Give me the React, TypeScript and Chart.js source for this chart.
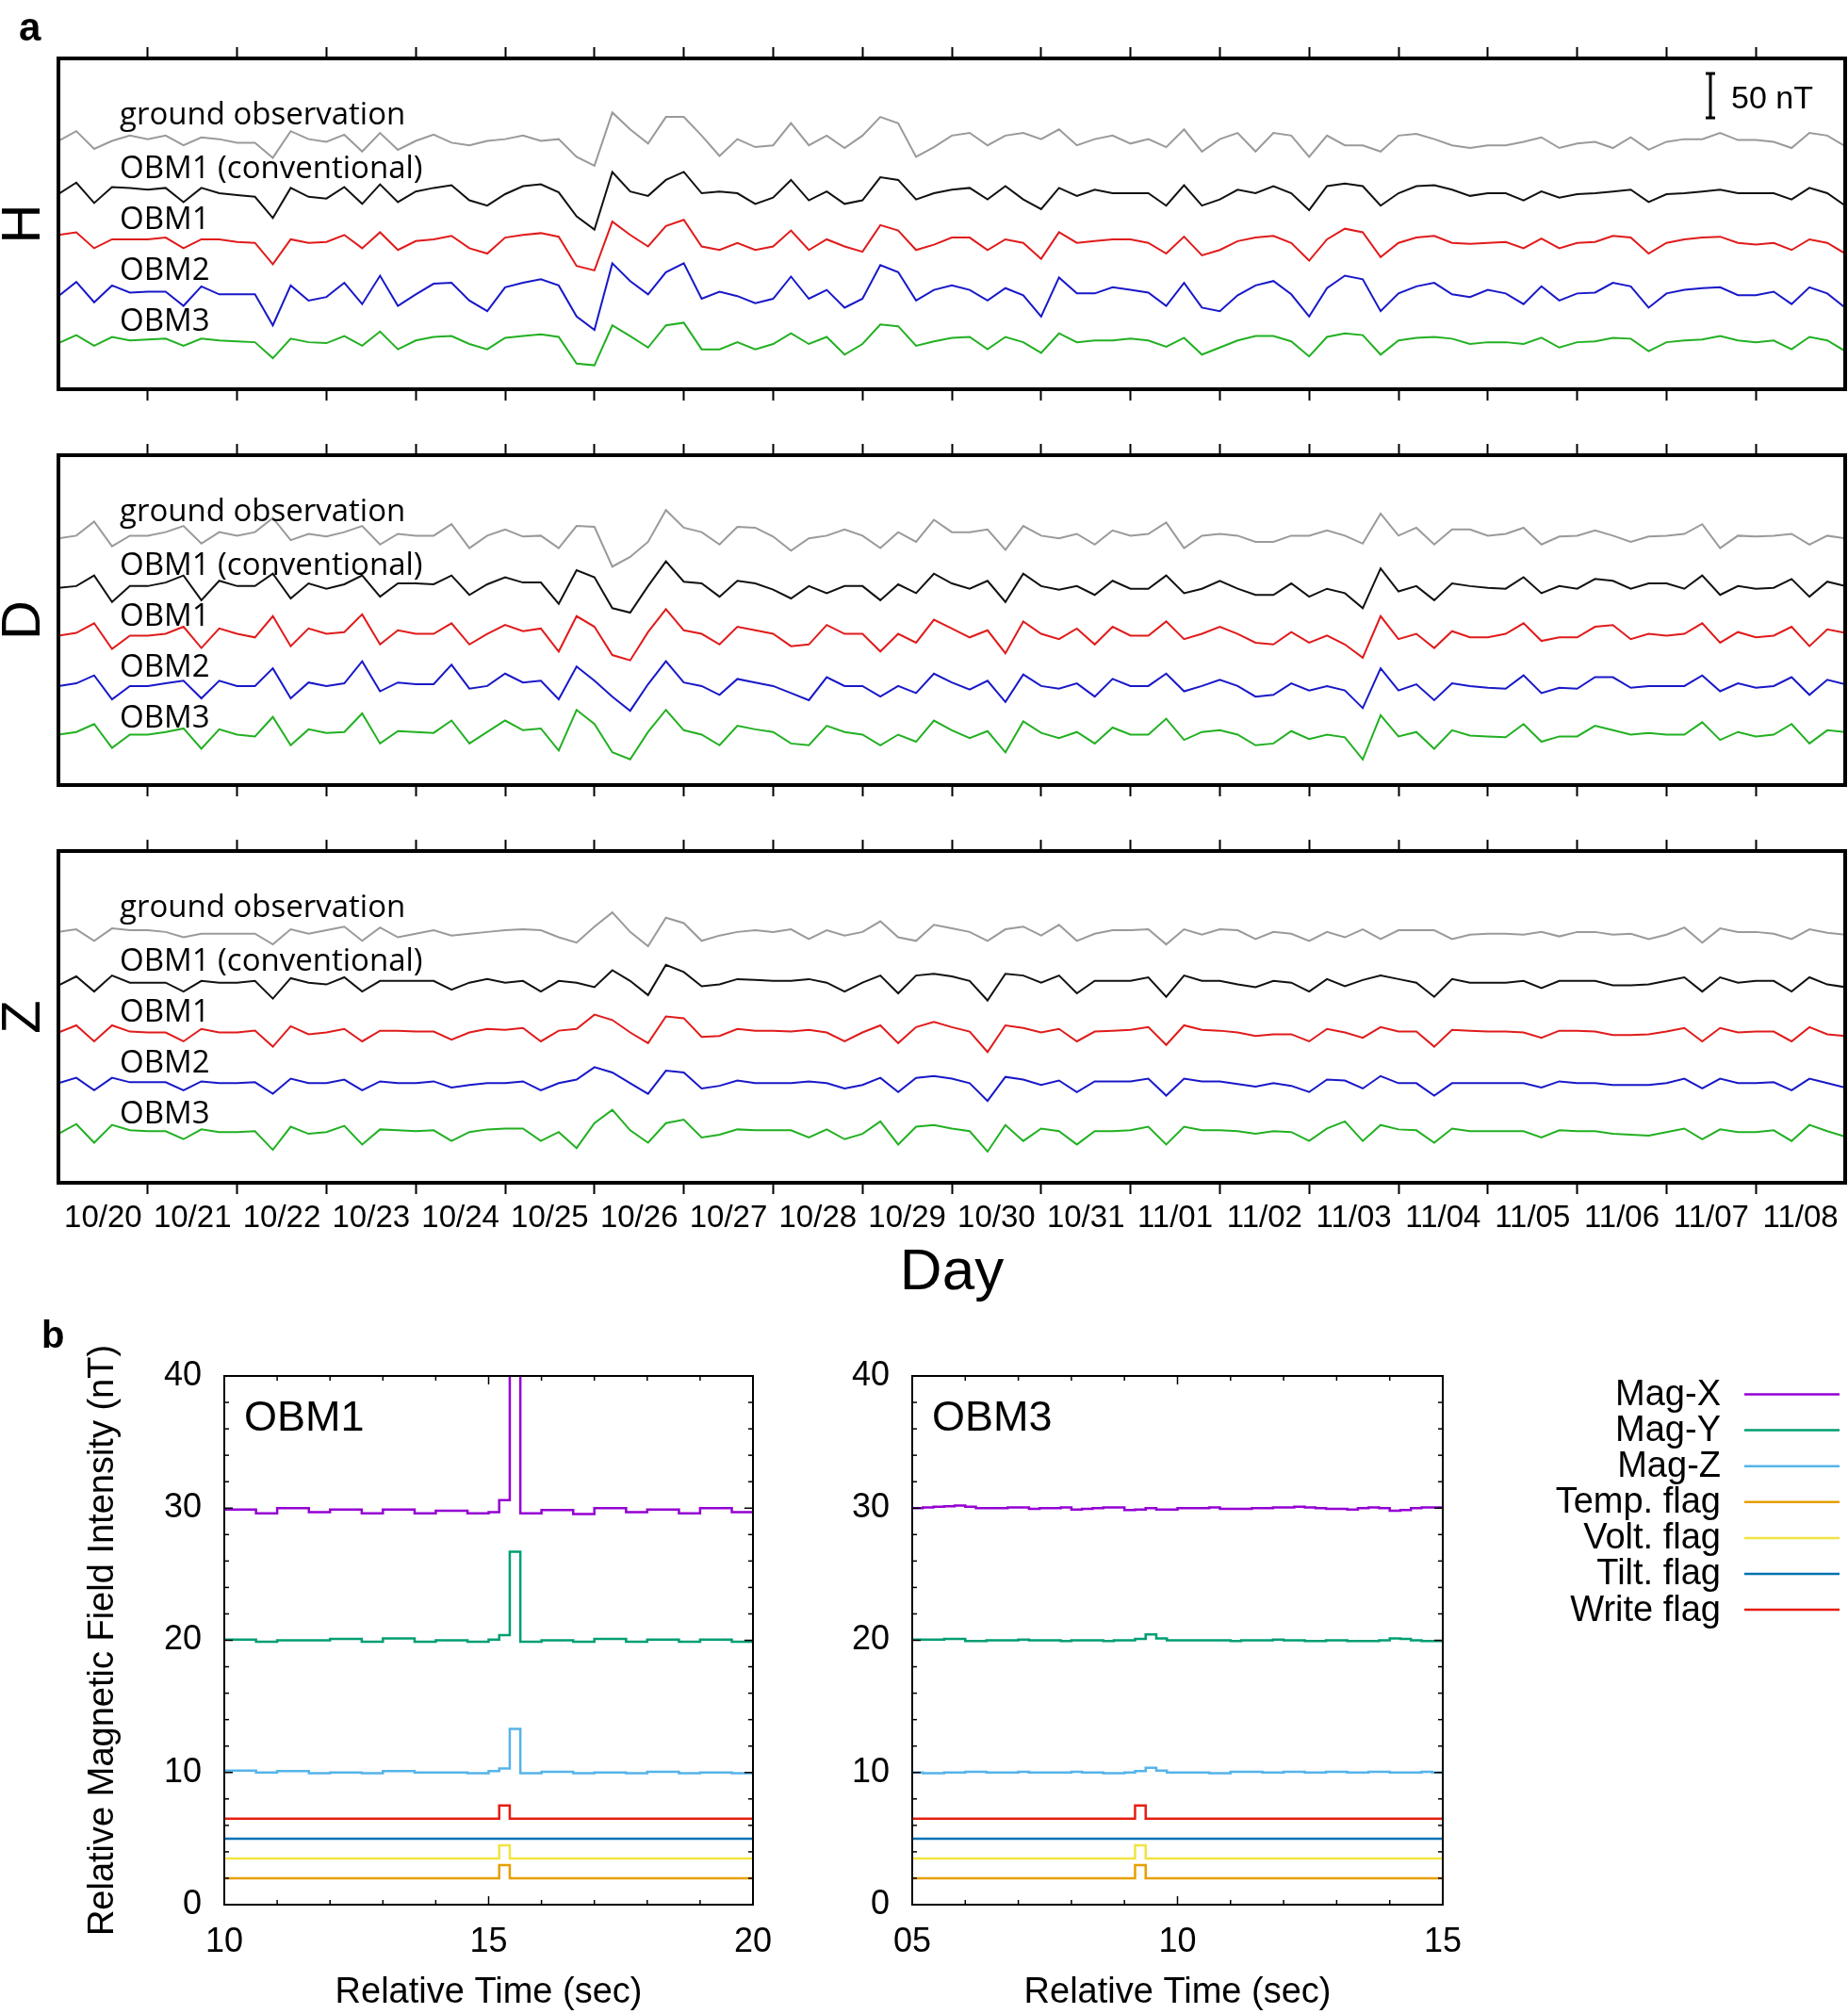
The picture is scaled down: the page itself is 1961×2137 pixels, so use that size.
import React, { useEffect, useRef } from "react";
import { Chart, registerables } from "chart.js";

Chart.register(...registerables);
Chart.defaults.font.family = "'Liberation Sans', Arial, Helvetica, sans-serif";
Chart.defaults.color = "#000";

// ---------------- Panel a : daily geomagnetic records ----------------
const DAY_LABELS = ["10/20", "10/21", "10/22", "10/23", "10/24", "10/25", "10/26", "10/27", "10/28", "10/29",
  "10/30", "10/31", "11/01", "11/02", "11/03", "11/04", "11/05", "11/06", "11/07", "11/08"];
const SAMPLE_STEP_DAYS = 0.2;
const SAMPLE_DAYS = Array.from({ length: 101 }, (_, i) => +(i * SAMPLE_STEP_DAYS).toFixed(1));
const SERIES_NAMES = ["ground observation", "OBM1 (conventional)", "OBM1", "OBM2", "OBM3"];
const SERIES_COLORS = ["#9a9a9a", "#111111", "#e01b1b", "#1818c8", "#22b022"];
const STACK_OFFSETS_NT = [282, 225, 169, 112, 57];
const SCALE_BAR_NT = 50;
const SCALE_BAR_LABEL = "50 nT";

// deviations in nT, one value every 0.2 day (10/20 00:00 -> 11/09 00:00)
const H_GROUND = [
  -2, 9, -11, -2, 4, 0, 4, -7, 2, 0,
  -4, -4, -21, 9, 0, -3, 5, -14, 7, -12,
  -2, 5, -4, -7, -2, 0, 4, -2, 0, -20,
  -30, 30, 11, -5, 25, 25, 4, -19, 0, -9,
  -7, 18, -7, 4, -10, 4, 25, 18, -20, -9,
  4, 7, -7, 4, 7, 0, 11, -7, 0, 4,
  -5, 0, -9, 11, -14, 0, 7, -14, 7, 4,
  -20, 4, -7, -7, -14, 4, 6, 0, -7, -10,
  -7, -7, -3, 2, -10, -5, -3, -10, 2, -12,
  -3, 0, 0, 7, -1, -1, -3, -10, 7, 4, -8];
const H_CONV = [
  -5, 8, -15, 3, 2, 0, 2, -14, 2, -4,
  -6, -8, -32, 2, -8, -10, 3, -16, 6, -14,
  -2, 2, 5, -12, -18, -5, 4, 6, -3, -30,
  -45, 20, -2, -7, 11, 20, -4, -2, -4, -16,
  -9, 11, -12, -2, -16, -12, 14, 11, -11, -4,
  0, 2, -11, 4, -11, -22, 2, -7, 0, -4,
  -4, -4, -18, 5, -18, -11, 0, -4, 4, -4,
  -23, 4, 7, 4, -18, -4, 4, 5, 0, -7,
  -4, -4, -12, -2, -9, -5, -4, -2, 0, -14,
  -5, -4, -2, 0, -4, -4, -4, -11, 2, -4, -18];
const H_OBM1 = [
  5, 8, -10, 0, 0, 0, 2, -10, 0, 0,
  -3, -4, -28, 0, -4, -3, 5, -10, 8, -12,
  -2, 0, 4, -10, -16, 2, 5, 7, 3, -30,
  -35, 20, 5, -8, 15, 22, -8, -12, -4, -12,
  -8, 10, -12, 0, -8, -14, 16, 10, -12, -6,
  2, 2, -12, 0, -4, -22, 8, -4, -2, 0,
  0, -4, -16, 3, -18, -12, -2, 2, 4, -4,
  -24, 0, 12, 8, -20, -4, 2, 4, -4, -5,
  -4, -3, -10, 1, -10, -4, -3, 4, 2, -16,
  -4, 0, 2, 3, -4, -6, -4, -12, 0, -4, -16];
const H_OBM2 = [
  -7, 9, -14, 5, -3, -2, -2, -18, 4, -5,
  -5, -5, -40, 5, -12, -8, 8, -16, 16, -18,
  -5, 7, 8, -12, -24, 3, 8, 12, 5, -30,
  -45, 30, 10, -5, 20, 30, -10, -2, -7, -15,
  -10, 15, -10, 0, -20, -10, 28, 20, -12, 0,
  5, 0, -12, 2, -6, -30, 14, -4, -4, 3,
  0, -3, -18, 8, -20, -24, -6, 5, 10, -5,
  -30, 2, 16, 12, -24, -4, 4, 8, -5, -8,
  0, -4, -16, 4, -12, -4, -3, 8, 4, -20,
  -4, 0, 2, 3, -6, -6, -2, -16, 3, -4, -20];
const H_OBM3 = [
  -5, 4, -8, 2, -2, -1, 0, -8, 0, -2,
  -3, -4, -22, 0, -4, -5, 3, -8, 8, -12,
  -2, 2, 3, -6, -12, 1, 3, 5, 2, -28,
  -30, 15, 3, -10, 15, 18, -12, -12, -4, -12,
  -6, 6, -6, 2, -18, -6, 16, 14, -8, -3,
  1, 2, -12, 2, -4, -16, 6, -4, -2, -2,
  0, -2, -9, 1, -18, -10, -2, 3, 3, -3,
  -20, 2, 6, 4, -18, -2, 1, 2, 0, -6,
  -4, -4, -6, 1, -10, -4, -3, 1, 0, -14,
  -4, -2, -1, 3, -2, -4, -2, -12, 2, -2, -14];

const D_GROUND = [
  -3, 0, 16, -12, 0, 0, 4, 11, -9, 4,
  0, 4, 20, -5, 2, -1, 4, 11, -10, 2,
  0, 0, 13, -14, 0, 7, -1, 0, -14, 11,
  10, -35, -24, -7, 29, 9, 4, -10, 10, 9,
  -1, -17, -3, 0, 7, 0, -14, 4, -7, 18,
  4, 4, 7, -16, 11, 0, -3, 2, -10, 6,
  0, 2, 15, -14, 0, 2, 0, -7, -7, 0,
  0, 6, 0, -9, 25, 0, 9, -10, 7, 7,
  0, 2, 9, -10, -1, 0, 6, 0, -7, -1,
  0, 2, 13, -14, 0, -1, 0, 2, -10, 0, -3];
const D_CONV = [
  -2, 0, 12, -18, 0, 0, 4, 12, -16, 6,
  0, 0, 14, -14, 3, -3, 2, 12, -12, 3,
  3, 2, 12, -10, 2, 10, 4, 4, -20, 18,
  10, -25, -30, 0, 28, 5, 3, -12, 6, 3,
  -4, -14, 0, -8, 0, 0, -16, 2, -8, 14,
  3, -3, 6, -18, 14, 0, -4, 0, -10, 6,
  -3, -3, 12, -8, -3, 6, -3, -10, -10, 3,
  -12, -3, -8, -25, 20, -6, 0, -16, 3, 0,
  -2, -3, 10, -8, 0, -3, 8, 6, -3, 3,
  3, -3, 12, -10, 0, -3, -2, 8, -12, 5, 0];
const D_OBM1 = [
  0, 3, 14, -15, 0, 0, 2, 10, -14, 8,
  2, -2, 22, -12, 8, 2, 4, 24, -10, 6,
  2, 2, 14, -10, 2, 12, 5, 8, -18, 22,
  10, -22, -28, 4, 30, 6, 2, -10, 10, 6,
  2, -12, -10, 12, 2, 2, -18, 2, -8, 18,
  8, -2, 6, -20, 16, 2, -4, 8, -10, 10,
  0, 0, 16, -4, 2, 10, 2, -8, -10, 4,
  -8, 0, -10, -25, 22, -4, 2, -14, 5, -2,
  -2, 2, 14, -6, -2, -2, 10, 12, -4, 2,
  0, 2, 14, -8, 4, -2, 0, 10, -12, 7, 3];
const D_OBM2 = [
  0, 3, 12, -15, 0, 0, 3, 6, -14, 6,
  0, 0, 20, -14, 4, 0, 3, 28, -6, 4,
  2, 2, 24, -3, 0, 14, 4, 6, -15, 22,
  6, -12, -28, 2, 28, 4, 0, -10, 8, 4,
  0, -8, -16, 10, 0, 0, -12, 0, -8, 14,
  4, -4, 6, -18, 13, 0, -3, 3, -12, 8,
  0, 0, 14, -6, 0, 7, 0, -12, -10, 3,
  -5, 0, -5, -25, 20, -5, 2, -16, 3, 0,
  -2, -3, 12, -8, -2, -3, 10, 10, -2, 0,
  0, 0, 12, -6, 3, -2, 0, 10, -10, 7, 2];
const D_OBM3 = [
  0, 3, 12, -15, 0, 0, 3, 7, -16, 6,
  0, -2, 20, -12, 6, 2, 3, 24, -10, 4,
  3, 2, 16, -10, 3, 16, 5, 7, -18, 28,
  12, -20, -28, 3, 28, 5, 0, -12, 10, 6,
  3, -10, -12, 10, 3, 0, -12, 0, -8, 16,
  5, -4, 4, -20, 15, 2, -4, 3, -10, 8,
  0, 0, 18, -6, 3, 5, 0, -12, -10, 4,
  -5, 0, -3, -28, 22, -2, 3, -16, 5, -1,
  -2, -3, 12, -8, -2, -2, 10, 5, 0, 2,
  0, 0, 14, -6, 3, -2, 0, 12, -10, 5, 3];

const Z_GROUND = [
  0, 3, -10, 4, 2, 2, 0, -6, -2, -2,
  -2, -2, -14, 3, -2, 2, 6, -10, 5, -6,
  -2, 2, -4, -2, 0, 2, 3, 2, -6, -12,
  6, 22, 0, -16, 16, 10, -10, -4, 0, 2,
  0, 3, -8, 2, -4, 0, 12, -6, -10, 8,
  4, 0, -10, 3, 6, -4, 8, -10, -2, 2,
  2, 3, -14, 3, -3, 3, 2, -8, 0, -2,
  -10, 0, -6, 3, -8, 2, 2, 2, -8, -3,
  -2, -2, -3, 0, -5, 0, 0, -3, -2, -8,
  -3, 5, -12, 4, 0, 0, -2, -8, 3, -1, -3];
const Z_CONV = [
  -3, 7, -10, 8, 0, 0, 0, -10, 2, 0,
  0, 2, -18, 5, 0, -2, 6, -10, 2, 2,
  2, 2, -8, 0, 4, 0, 2, -10, 2, 0,
  -5, 14, 2, -14, 20, 12, -4, -2, 4, 3,
  2, 2, 4, 0, -10, 0, 8, -12, 8, 10,
  7, 2, -20, 10, 8, 0, 8, -12, 2, 2,
  2, 6, -16, 8, 2, 2, -2, -5, 2, 0,
  -10, 4, -4, 3, 8, 4, 0, -16, 4, 0,
  0, 0, 2, -6, 2, 2, 2, -3, -3, -2,
  2, 6, -10, 6, 0, 2, 2, -10, 6, -2, -5];
const Z_OBM1 = [
  0, 8, -10, 8, 1, 0, 0, -10, 4, 0,
  0, 2, -16, 7, -2, 0, 4, -10, 2, 2,
  1, 1, -8, 0, 4, 3, 5, -10, 2, 4,
  20, 14, 0, -12, 18, 16, -5, -4, 4, 2,
  2, 1, 3, 0, -10, 0, 8, -12, 6, 12,
  6, 1, -22, 8, 5, 0, 4, -10, 1, 2,
  3, 6, -14, 8, 3, 2, 0, -4, -2, -2,
  -10, 4, 0, -6, 6, 1, 1, -16, 3, 2,
  1, 1, 0, -6, 2, 2, 1, -3, -3, -2,
  1, 5, -10, 5, 0, 1, 1, -10, 6, -2, -4];
const Z_OBM2 = [
  0, 6, -8, 6, 1, 1, 1, -8, 2, 0,
  0, 1, -12, 5, 0, 0, 4, -8, 2, 0,
  0, 2, -5, -2, 0, 0, 2, -8, 0, 4,
  18, 12, 0, -12, 14, 12, -6, -3, 3, 0,
  0, 0, 2, 0, -6, -2, 6, -10, 6, 8,
  5, 0, -20, 7, 4, -2, 3, -10, 2, 2,
  2, 5, -14, 5, 2, 2, -1, -4, 0, -3,
  -10, 4, 3, -6, 8, 0, 0, -14, 0, 0,
  0, 0, 0, -5, 2, 0, 0, -2, -2, -2,
  0, 5, -6, 5, 0, 0, 1, -8, 5, 0, -5];
const Z_OBM3 = [
  -2, 9, -12, 8, 2, 1, 1, -8, 3, 0,
  0, 1, -20, 6, -2, 0, 7, -14, 3, 2,
  1, 2, -10, 0, 3, 4, 4, -10, 0, -18,
  10, 25, 2, -12, 10, 14, -6, -3, 3, 2,
  2, 2, -6, 3, -8, -2, 12, -14, 6, 8,
  4, 1, -22, 8, -10, 4, 1, -14, 1, 1,
  2, 6, -14, 6, 2, 2, 1, -2, 1, 0,
  -10, 4, 12, -10, 8, 3, 2, -12, 4, 1,
  1, 1, 1, -6, 2, 1, 1, -2, -3, -4,
  0, 4, -8, 3, 0, 0, 2, -10, 8, 1, -5];

// ---------------- Panel b : 0.2 s records around a write event ----------------
const FLAG_SERIES_NAMES = ["Mag-X", "Mag-Y", "Mag-Z", "Temp. flag", "Volt. flag", "Tilt. flag", "Write flag"];
const FLAG_SERIES_COLORS = ["#9400d3", "#009e73", "#56b4e9", "#e69f00", "#f0e442", "#0072b2", "#e51e10"];
const FLAG_STEP_SEC = 0.2;
const OBM1_TIMES = Array.from({ length: 51 }, (_, i) => +(10 + i * FLAG_STEP_SEC).toFixed(1));
const OBM3_TIMES = Array.from({ length: 51 }, (_, i) => +(5 + i * FLAG_STEP_SEC).toFixed(1));

const OBM1_MAG_X = [29.9, 29.9, 29.9, 29.6, 29.6, 30.0, 30.0, 30.0, 29.7, 29.7,
  29.9, 29.9, 29.9, 29.6, 29.6, 29.9, 29.9, 29.9, 29.6, 29.6,
  29.8, 29.8, 29.8, 29.6, 29.6, 29.7, 30.6, 46, 29.6, 29.6,
  29.85, 29.85, 29.85, 29.55, 29.55, 30.0, 30.0, 30.0, 29.7, 29.7,
  29.9, 29.9, 29.9, 29.6, 29.6, 30.0, 30.0, 30.0, 29.7, 29.7, 29.7];
const OBM1_MAG_Y = [20.05, 20.05, 20.05, 19.9, 19.9, 20.0, 20.0, 20.0, 20.0, 20.0,
  20.1, 20.1, 20.1, 19.9, 19.9, 20.15, 20.15, 20.15, 19.9, 19.9,
  20.0, 20.0, 20.0, 19.9, 19.9, 20.05, 20.4, 26.7, 19.9, 19.9,
  20.0, 20.0, 20.0, 19.9, 19.9, 20.1, 20.1, 20.1, 19.9, 19.9,
  20.05, 20.05, 20.05, 19.9, 19.9, 20.05, 20.05, 20.05, 19.9, 19.9, 19.9];
const OBM1_MAG_Z = [10.15, 10.15, 10.15, 10.0, 10.0, 10.1, 10.1, 10.1, 9.95, 9.95,
  10.0, 10.0, 10.0, 9.95, 9.95, 10.1, 10.1, 10.1, 10.0, 10.0,
  10.0, 10.0, 10.0, 9.95, 9.95, 10.1, 10.3, 13.3, 9.95, 9.95,
  10.05, 10.05, 10.05, 9.95, 9.95, 10.0, 10.0, 10.0, 9.95, 9.95,
  10.05, 10.05, 10.05, 9.95, 9.95, 10.0, 10.0, 10.0, 9.95, 9.95, 9.95];
const OBM1_TEMP = [2, 2, 2, 2, 2, 2, 2, 2, 2, 2, 2, 2, 2, 2, 2, 2, 2, 2, 2, 2,
  2, 2, 2, 2, 2, 2, 3, 2, 2, 2, 2, 2, 2, 2, 2, 2, 2, 2, 2, 2, 2, 2, 2, 2, 2, 2, 2, 2, 2, 2, 2];
const OBM1_VOLT = [3.5, 3.5, 3.5, 3.5, 3.5, 3.5, 3.5, 3.5, 3.5, 3.5, 3.5, 3.5, 3.5, 3.5, 3.5, 3.5, 3.5, 3.5, 3.5, 3.5,
  3.5, 3.5, 3.5, 3.5, 3.5, 3.5, 4.5, 3.5, 3.5, 3.5, 3.5, 3.5, 3.5, 3.5, 3.5, 3.5, 3.5, 3.5, 3.5, 3.5,
  3.5, 3.5, 3.5, 3.5, 3.5, 3.5, 3.5, 3.5, 3.5, 3.5, 3.5];
const OBM1_TILT = [5, 5, 5, 5, 5, 5, 5, 5, 5, 5, 5, 5, 5, 5, 5, 5, 5, 5, 5, 5,
  5, 5, 5, 5, 5, 5, 5, 5, 5, 5, 5, 5, 5, 5, 5, 5, 5, 5, 5, 5, 5, 5, 5, 5, 5, 5, 5, 5, 5, 5, 5];
const OBM1_WRITE = [6.5, 6.5, 6.5, 6.5, 6.5, 6.5, 6.5, 6.5, 6.5, 6.5, 6.5, 6.5, 6.5, 6.5, 6.5, 6.5, 6.5, 6.5, 6.5, 6.5,
  6.5, 6.5, 6.5, 6.5, 6.5, 6.5, 7.5, 6.5, 6.5, 6.5, 6.5, 6.5, 6.5, 6.5, 6.5, 6.5, 6.5, 6.5, 6.5, 6.5,
  6.5, 6.5, 6.5, 6.5, 6.5, 6.5, 6.5, 6.5, 6.5, 6.5, 6.5];

const OBM3_MAG_X = [30.0, 30.05, 30.1, 30.15, 30.2, 30.1, 30.0, 30.0, 30.0, 30.05,
  30.05, 29.95, 30.0, 30.0, 30.05, 29.9, 29.95, 30.0, 30.05, 30.05,
  29.85, 29.9, 30.0, 29.9, 29.9, 30.0, 30.0, 30.0, 30.05, 29.95,
  29.95, 29.95, 30.0, 30.0, 30.05, 30.05, 30.1, 30.05, 30.0, 29.95,
  29.95, 29.9, 30.0, 30.05, 30.0, 29.8, 29.85, 30.0, 30.05, 30.05, 30.05];
const OBM3_MAG_Y = [20.05, 20.05, 20.05, 20.1, 20.1, 19.95, 19.95, 20.0, 20.0, 20.0,
  20.05, 20.0, 20.0, 20.0, 19.95, 20.0, 20.0, 20.0, 19.95, 20.0,
  20.0, 20.1, 20.45, 20.15, 20.0, 20.0, 20.0, 20.0, 20.0, 20.0,
  19.95, 20.0, 20.0, 20.0, 20.05, 20.0, 20.0, 19.95, 19.95, 20.0,
  20.0, 19.95, 19.95, 19.95, 20.0, 20.15, 20.1, 20.0, 19.95, 19.95, 19.95];
const OBM3_MAG_Z = [10.0, 9.95, 9.95, 10.0, 10.0, 10.05, 10.05, 10.0, 10.0, 10.0,
  10.05, 10.0, 10.0, 10.0, 10.0, 10.05, 10.0, 10.0, 9.95, 9.95,
  10.0, 10.1, 10.35, 10.15, 10.0, 10.0, 10.0, 10.0, 9.95, 9.95,
  10.05, 10.05, 10.05, 10.0, 10.0, 10.05, 10.05, 10.0, 10.0, 10.05,
  10.05, 10.0, 10.0, 10.05, 10.05, 10.0, 10.0, 10.0, 10.05, 10.0, 10.0];
const OBM3_TEMP = [2, 2, 2, 2, 2, 2, 2, 2, 2, 2, 2, 2, 2, 2, 2, 2, 2, 2, 2, 2,
  2, 3, 2, 2, 2, 2, 2, 2, 2, 2, 2, 2, 2, 2, 2, 2, 2, 2, 2, 2, 2, 2, 2, 2, 2, 2, 2, 2, 2, 2, 2];
const OBM3_VOLT = [3.5, 3.5, 3.5, 3.5, 3.5, 3.5, 3.5, 3.5, 3.5, 3.5, 3.5, 3.5, 3.5, 3.5, 3.5, 3.5, 3.5, 3.5, 3.5, 3.5,
  3.5, 4.5, 3.5, 3.5, 3.5, 3.5, 3.5, 3.5, 3.5, 3.5, 3.5, 3.5, 3.5, 3.5, 3.5, 3.5, 3.5, 3.5, 3.5, 3.5,
  3.5, 3.5, 3.5, 3.5, 3.5, 3.5, 3.5, 3.5, 3.5, 3.5, 3.5];
const OBM3_TILT = [5, 5, 5, 5, 5, 5, 5, 5, 5, 5, 5, 5, 5, 5, 5, 5, 5, 5, 5, 5,
  5, 5, 5, 5, 5, 5, 5, 5, 5, 5, 5, 5, 5, 5, 5, 5, 5, 5, 5, 5, 5, 5, 5, 5, 5, 5, 5, 5, 5, 5, 5];
const OBM3_WRITE = [6.5, 6.5, 6.5, 6.5, 6.5, 6.5, 6.5, 6.5, 6.5, 6.5, 6.5, 6.5, 6.5, 6.5, 6.5, 6.5, 6.5, 6.5, 6.5, 6.5,
  6.5, 7.5, 6.5, 6.5, 6.5, 6.5, 6.5, 6.5, 6.5, 6.5, 6.5, 6.5, 6.5, 6.5, 6.5, 6.5, 6.5, 6.5, 6.5, 6.5,
  6.5, 6.5, 6.5, 6.5, 6.5, 6.5, 6.5, 6.5, 6.5, 6.5, 6.5];

// ---------------- layout / style specs ----------------
const TRACE_PANELS = [
  { key: "H", letter: "H", top: 0, height: 430, padTop: 62, padBottom: 17, dayAxis: false, scaleBar: true, figLabel: "a",
    traces: [H_GROUND, H_CONV, H_OBM1, H_OBM2, H_OBM3] },
  { key: "D", letter: "D", top: 440, height: 410, padTop: 43, padBottom: 17, dayAxis: false, scaleBar: false, figLabel: "",
    traces: [D_GROUND, D_CONV, D_OBM1, D_OBM2, D_OBM3] },
  { key: "Z", letter: "Z", top: 860, height: 530, padTop: 43, padBottom: 135, dayAxis: true, scaleBar: false, figLabel: "",
    traces: [Z_GROUND, Z_CONV, Z_OBM1, Z_OBM2, Z_OBM3] },
];

const FLAG_PANELS = [
  { key: "obm1", name: "OBM1", left: 0, width: 820, yAxisWidth: 238, padRight: 21, xMin: 10, xMax: 20,
    times: OBM1_TIMES, yTitle: true, legend: false, figLabel: "b",
    values: [OBM1_MAG_X, OBM1_MAG_Y, OBM1_MAG_Z, OBM1_TEMP, OBM1_VOLT, OBM1_TILT, OBM1_WRITE] },
  { key: "obm3", name: "OBM3", left: 900, width: 1061, yAxisWidth: 68, padRight: 430, xMin: 5, xMax: 15,
    times: OBM3_TIMES, yTitle: false, legend: true, figLabel: "",
    values: [OBM3_MAG_X, OBM3_MAG_Y, OBM3_MAG_Z, OBM3_TEMP, OBM3_VOLT, OBM3_TILT, OBM3_WRITE] },
];

const NAME_BASELINES = [70, 127, 181, 235, 289];
const SANS = "'Liberation Sans', Arial, Helvetica, sans-serif";

function line(ctx: CanvasRenderingContext2D, x1: number, y1: number, x2: number, y2: number) {
  ctx.beginPath();
  ctx.moveTo(x1, y1);
  ctx.lineTo(x2, y2);
  ctx.stroke();
}

function noHorizontalOverhang(s: any) {
  s.paddingLeft = 0;
  s.paddingRight = 0;
}
function noVerticalOverhang(s: any) {
  s.paddingTop = 0;
  s.paddingBottom = 0;
}

function traceDeco(p: any) {
  return {
    id: "traceDeco" + p.key,
    afterDatasetsDraw(chart: any) {
      const { ctx, chartArea: ca, scales } = chart;
      const y = scales.y;
      ctx.save();
      ctx.fillStyle = "#000";
      ctx.strokeStyle = "#000";
      ctx.font = "33px 'Open Sans', sans-serif";
      ctx.textAlign = "left";
      ctx.textBaseline = "alphabetic";
      SERIES_NAMES.forEach((n, k) => ctx.fillText(n, ca.left + 65, ca.top + NAME_BASELINES[k]));
      ctx.lineWidth = 4;
      ctx.strokeRect(ca.left, ca.top, ca.right - ca.left, ca.bottom - ca.top);
      ctx.save();
      ctx.translate(42, (ca.top + ca.bottom) / 2);
      ctx.rotate(-Math.PI / 2);
      ctx.font = `58px ${SANS}`;
      ctx.textAlign = "center";
      ctx.fillText(p.letter, 0, 0);
      ctx.restore();
      if (p.scaleBar) {
        const topNT = y.max - 17;
        const yt = y.getPixelForValue(topNT);
        const yb = y.getPixelForValue(topNT - SCALE_BAR_NT);
        const bx = ca.right - 143;
        ctx.lineWidth = 3;
        line(ctx, bx, yt, bx, yb);
        line(ctx, bx - 5, yt, bx + 5, yt);
        line(ctx, bx - 5, yb, bx + 5, yb);
        ctx.font = `34px ${SANS}`;
        ctx.textAlign = "left";
        ctx.fillText(SCALE_BAR_LABEL, bx + 22, yb - 10);
      }
      if (p.figLabel) {
        ctx.font = `bold 42px ${SANS}`;
        ctx.textAlign = "left";
        ctx.fillText(p.figLabel, 20, 43);
      }
      ctx.restore();
    },
  };
}

function traceConfig(p: any) {
  const datasets = p.traces.map((vals: number[], k: number) => ({
    label: SERIES_NAMES[k],
    data: vals.map((v, i) => ({ x: SAMPLE_DAYS[i], y: STACK_OFFSETS_NT[k] + v })),
    borderColor: SERIES_COLORS[k],
    backgroundColor: SERIES_COLORS[k],
    borderWidth: 2,
    pointRadius: 0,
    tension: 0,
    fill: false,
  }));
  const halfTicks = Array.from({ length: 41 }, (_, i) => i / 2);
  const dayBounds = Array.from({ length: 19 }, (_, i) => i + 1);
  return {
    type: "line",
    data: { datasets },
    options: {
      responsive: false,
      animation: false,
      devicePixelRatio: 1,
      events: [],
      layout: { padding: { left: 0, right: 3, top: 0, bottom: 0 } },
      plugins: { legend: { display: false }, tooltip: { enabled: false }, title: { display: false } },
      scales: {
        x: {
          type: "linear", position: "bottom", min: 0, max: 20,
          afterBuildTicks: (s: any) => { s.ticks = halfTicks.map((v) => ({ value: v })); },
          afterFit: (s: any) => { s.height = p.padBottom; noHorizontalOverhang(s); },
          ticks: {
            display: p.dayAxis, autoSkip: false, maxRotation: 0, minRotation: 0, padding: 6,
            font: { size: 33 }, color: "#000",
            callback: (v: any) => (Number(v) % 1 === 0.5 ? DAY_LABELS[Math.floor(Number(v))] : ""),
          },
          grid: {
            drawOnChartArea: false, drawTicks: true, tickLength: 12, tickWidth: 2,
            tickColor: (c: any) => (c.tick && Number.isInteger(c.tick.value) && c.tick.value > 0 && c.tick.value < 20 ? "#000" : "rgba(0,0,0,0)"),
          },
          border: { display: false },
          title: { display: p.dayAxis, text: "Day", font: { size: 62 }, color: "#000", padding: { top: 0, bottom: 2 } },
        },
        xTop: {
          type: "linear", position: "top", min: 0, max: 20,
          afterBuildTicks: (s: any) => { s.ticks = dayBounds.map((v) => ({ value: v })); },
          afterFit: (s: any) => { s.height = p.padTop; noHorizontalOverhang(s); },
          ticks: { display: false },
          grid: { drawOnChartArea: false, drawTicks: true, tickLength: 12, tickWidth: 2, tickColor: "#000" },
          border: { display: false },
        },
        y: {
          type: "linear", position: "left", min: 0, max: 373,
          afterFit: (s: any) => { s.width = 62; noVerticalOverhang(s); },
          ticks: { display: false },
          grid: { display: false, drawTicks: false },
          border: { display: false },
        },
      },
    },
    plugins: [traceDeco(p)],
  };
}

function flagDeco(p: any) {
  return {
    id: "flagDeco" + p.key,
    afterDraw(chart: any) {
      const { ctx, chartArea: ca, scales } = chart;
      const { x, y } = scales;
      ctx.save();
      ctx.strokeStyle = "#000";
      ctx.fillStyle = "#000";
      ctx.lineWidth = 2;
      ctx.strokeRect(ca.left, ca.top, ca.right - ca.left, ca.bottom - ca.top);
      ctx.lineWidth = 1.5;
      x.ticks.forEach((t: any) => {
        if (t.value <= x.min || t.value >= x.max) return;
        const px = x.getPixelForValue(t.value);
        const len = t.value % 5 === 0 ? 9 : 5;
        line(ctx, px, ca.bottom, px, ca.bottom - len);
        line(ctx, px, ca.top, px, ca.top + len);
      });
      y.ticks.forEach((t: any) => {
        if (t.value <= y.min || t.value >= y.max) return;
        const py = y.getPixelForValue(t.value);
        const len = t.value % 10 === 0 ? 9 : 5;
        line(ctx, ca.left, py, ca.left + len, py);
        line(ctx, ca.right, py, ca.right - len, py);
      });
      ctx.font = `45px ${SANS}`;
      ctx.textAlign = "left";
      ctx.textBaseline = "alphabetic";
      ctx.fillText(p.name, ca.left + 21, ca.top + 58);
      if (p.figLabel) {
        ctx.font = `bold 40px ${SANS}`;
        ctx.fillText(p.figLabel, 44, 40);
      }
      if (p.legend) {
        ctx.font = `38px ${SANS}`;
        ctx.textAlign = "right";
        ctx.textBaseline = "middle";
        ctx.lineWidth = 2.5;
        FLAG_SERIES_NAMES.forEach((n, k) => {
          const ly = ca.top + 19.5 + k * 38.1;
          ctx.fillStyle = "#000";
          ctx.fillText(n, ca.right + 295, ly + 1);
          ctx.strokeStyle = FLAG_SERIES_COLORS[k];
          line(ctx, ca.right + 320, ly, ca.right + 421, ly);
        });
      }
      ctx.restore();
    },
  };
}

function flagConfig(p: any) {
  const datasets = p.values.map((vals: number[], k: number) => ({
    label: FLAG_SERIES_NAMES[k],
    data: vals.map((v, i) => ({ x: p.times[i], y: v })),
    borderColor: FLAG_SERIES_COLORS[k],
    backgroundColor: FLAG_SERIES_COLORS[k],
    borderWidth: 2.5,
    pointRadius: 0,
    stepped: "before",
    fill: false,
  }));
  return {
    type: "line",
    data: { datasets },
    options: {
      responsive: false,
      animation: false,
      devicePixelRatio: 1,
      events: [],
      layout: { padding: { left: 0, right: p.padRight, top: 70, bottom: 0 } },
      plugins: { legend: { display: false }, tooltip: { enabled: false }, title: { display: false } },
      scales: {
        x: {
          type: "linear", position: "bottom", min: p.xMin, max: p.xMax,
          afterFit: (s: any) => { s.height = 116; noHorizontalOverhang(s); },
          ticks: {
            stepSize: 1, autoSkip: false, maxRotation: 0, minRotation: 0, padding: 18,
            font: { size: 36 }, color: "#000",
            callback: (v: any) => (Number(v) % 5 === 0 ? String(v).padStart(2, "0") : ""),
          },
          grid: { display: false, drawTicks: false },
          border: { display: false },
          title: { display: true, text: "Relative Time (sec)", font: { size: 38 }, color: "#000", padding: { top: 0, bottom: 0 } },
        },
        y: {
          type: "linear", position: "left", min: 0, max: 40,
          afterFit: (s: any) => { s.width = p.yAxisWidth; noVerticalOverhang(s); },
          ticks: {
            stepSize: 2, autoSkip: false, padding: 24, font: { size: 36 }, color: "#000",
            callback: (v: any) => (Number(v) % 10 === 0 ? String(v) : ""),
          },
          grid: { display: false, drawTicks: false },
          border: { display: false },
          title: {
            display: p.yTitle, text: "Relative Magnetic Field Intensity (nT)", font: { size: 38 }, color: "#000",
            padding: { top: 87, bottom: 0 },
          },
        },
      },
    },
    plugins: [flagDeco(p)],
  };
}

function ChartCanvas({ left, top, width, height, build }: { left: number; top: number; width: number; height: number; build: () => any }) {
  const ref = useRef<HTMLCanvasElement | null>(null);
  useEffect(() => {
    if (!ref.current) return;
    const chart = new Chart(ref.current, build());
    return () => chart.destroy();
  }, []);
  return (
    <canvas
      ref={ref}
      width={width}
      height={height}
      style={{ position: "absolute", left, top, width, height, display: "block" }}
    />
  );
}

export default function App() {
  return (
    <div style={{ position: "absolute", left: 0, top: 0, width: 1961, height: 2137, background: "#fff", overflow: "hidden" }}>
      {TRACE_PANELS.map((p) => (
        <ChartCanvas key={p.key} left={0} top={p.top} width={1961} height={p.height} build={() => traceConfig(p)} />
      ))}
      {FLAG_PANELS.map((p) => (
        <ChartCanvas key={p.key} left={p.left} top={1390} width={p.width} height={747} build={() => flagConfig(p)} />
      ))}
    </div>
  );
}
